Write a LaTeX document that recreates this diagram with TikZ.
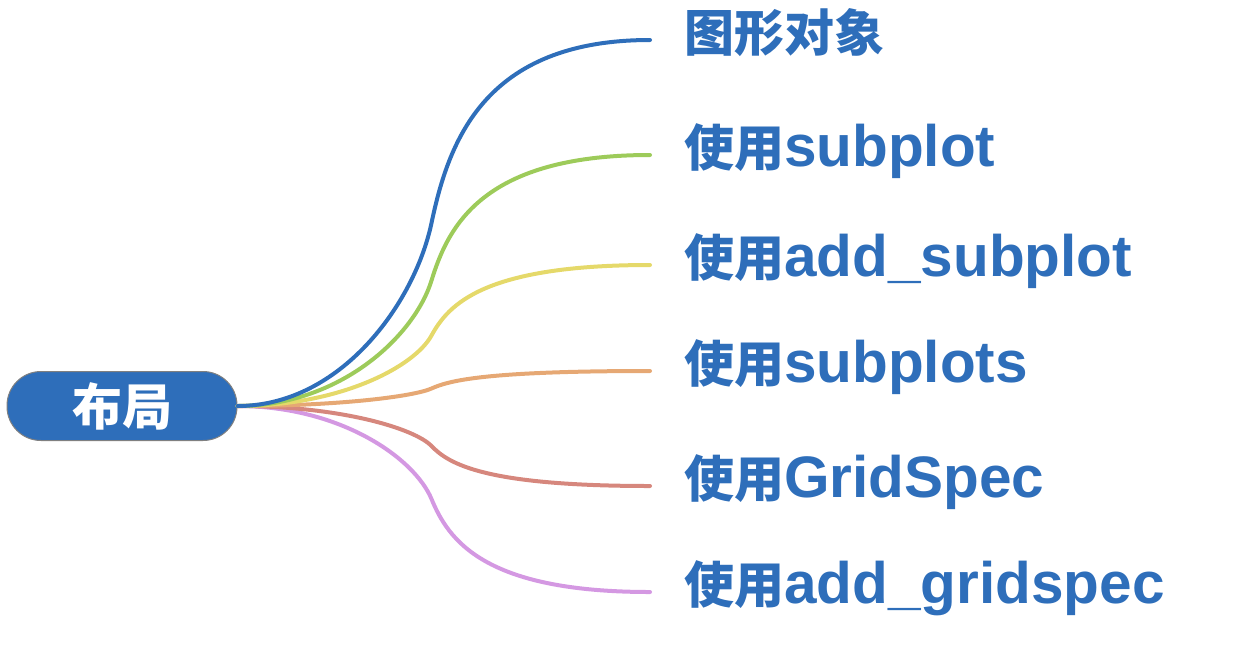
\documentclass[tikz,border=0pt]{standalone}
\usepackage{fontspec}
\usetikzlibrary{calc}
\setmainfont{Liberation Sans}
\newfontfamily\cjk{Noto Sans CJK SC}
\newcommand{\zh}[1]{{\cjk\bfseries\fontsize{50}{56}\selectfont #1}}

\definecolor{mapblue}{HTML}{2E6EBA}
\definecolor{mapgreen}{HTML}{9DCB5A}
\definecolor{mapyellow}{HTML}{E5D96A}
\definecolor{maporange}{HTML}{E6A874}
\definecolor{mapred}{HTML}{D6877D}
\definecolor{mappink}{HTML}{D498E2}

\tikzset{
  root/.style={draw=gray, line width=1pt, fill=mapblue, text=white,
    minimum width=230pt, minimum height=69pt, rounded corners=34pt, inner sep=0pt},
  leaf/.style={anchor=west, text=mapblue, inner xsep=34pt, inner ysep=0pt,
    text height=22pt, text depth=0pt,
    font=\bfseries\fontsize{58.5}{62}\selectfont},
  branch/.style={line width=4pt, line cap=round}
}

\begin{document}
\begin{tikzpicture}[x=1pt, y=-1pt]
	\useasboundingbox (0,0) rectangle (1238,662);

	% root
	\node[root] (layout) at (122,406) {\zh{布局}};

	% leaves
	\node[leaf] (fig)     at (650,40)  {\zh{图形对象}};
	\node[leaf] (sub)     at (650,155) {\zh{使用}subplot};
	\node[leaf] (addsub)  at (650,265) {\zh{使用}add\_subplot};
	\node[leaf] (subs)    at (650,371) {\zh{使用}subplots};
	\node[leaf] (grid)    at (650,486) {\zh{使用}GridSpec};
	\node[leaf] (addgrid) at (650,592) {\zh{使用}add\_gridspec};

	% branches, bottom first (two s-halves meeting half way up)
	\foreach \leaf/\col in {addgrid/mappink, grid/mapred, subs/maporange,
	                        addsub/mapyellow, sub/mapgreen, fig/mapblue}
	  \draw[branch, \col] let \p1=(layout.east), \p2=(\leaf.west) in
	    (\p1) .. controls ({\x1+103pt},\y1) and ({\x1+177pt},{\y1+0.28*(\y2-\y1)})
	    .. ({\x1+194pt},{\y1+0.5*(\y2-\y1)})
	    .. controls ({\x1+211pt},{\y1+0.72*(\y2-\y1)}) and ({\x1+246pt},\y2) .. (\p2);

\end{tikzpicture}
\end{document}
